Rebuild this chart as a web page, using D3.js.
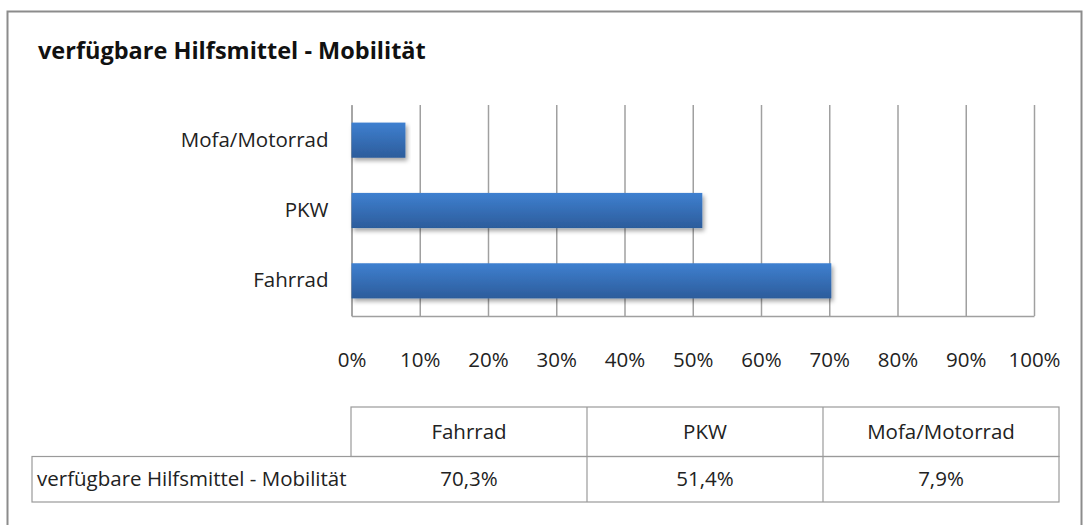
<!DOCTYPE html>
<html>
<head>
<meta charset="utf-8"/>
<title>verfügbare Hilfsmittel - Mobilität</title>
<script src="https://d3js.org/d3.v7.min.js"></script>
<style>
  body { margin: 0; background: #fff; }
  svg text { font-family: "Open Sans", sans-serif; fill: #222; }
  .title { font-size: 23.5px; font-weight: bold; fill: #111; }
  .lbl { font-size: 20.5px; }
</style>
</head>
<body>
<svg id="chart" width="1084" height="525"></svg>
<script>
  var title = "verfügbare Hilfsmittel - Mobilität";
  var categories = ["Fahrrad", "PKW", "Mofa/Motorrad"];
  var values = [70.3, 51.4, 7.9];
  var valueLabels = ["70,3%", "51,4%", "7,9%"];
  var ticks = [0, 10, 20, 30, 40, 50, 60, 70, 80, 90, 100];

  var svg = d3.select("#chart");

  // gradient + shadow for the bars
  var defs = svg.append("defs");
  var grad = defs.append("linearGradient").attr("id", "barGrad")
      .attr("x1", 0).attr("y1", 0).attr("x2", 0).attr("y2", 1);
  grad.append("stop").attr("offset", "0%").attr("stop-color", "#3f80d0");
  grad.append("stop").attr("offset", "100%").attr("stop-color", "#2c5c9b");
  var shadow = defs.append("filter").attr("id", "shadow")
      .attr("x", "-5%").attr("y", "-20%").attr("width", "115%").attr("height", "160%");
  shadow.append("feDropShadow").attr("dx", 2).attr("dy", 3).attr("stdDeviation", 2)
      .attr("flood-color", "#000").attr("flood-opacity", 0.35);

  // outer frame
  svg.append("rect").attr("x", 7.5).attr("y", 11.5).attr("width", 1074).attr("height", 520)
      .attr("fill", "none").attr("stroke", "#8c8c8c").attr("stroke-width", 2);

  svg.append("text").attr("class", "title").attr("x", 38).attr("y", 59).text(title);

  var plotLeft = 351.5, plotRight = 1034, plotTop = 105, plotBottom = 316;

  var x = d3.scaleLinear().domain([0, 100]).range([plotLeft, plotRight]);
  var y = d3.scaleBand().domain(categories.slice().reverse()).range([plotTop, plotBottom])
      .paddingInner(0.5).paddingOuter(0.25);

  // gridlines
  var grid = svg.append("g").attr("transform", "translate(0," + plotBottom + ")")
      .call(d3.axisBottom(x).tickValues(ticks).tickSize(-(plotBottom - plotTop)).tickFormat(""));
  grid.select(".domain").remove();
  grid.selectAll("line").attr("stroke", "#a0a0a0").attr("stroke-width", 1.5);

  // x tick labels
  var xAxis = svg.append("g").attr("transform", "translate(0," + plotBottom + ")")
      .call(d3.axisBottom(x).tickValues(ticks).tickSize(0).tickPadding(36)
        .tickFormat(function(d) { return d + "%"; }));
  xAxis.select(".domain").attr("stroke", "#a0a0a0").attr("stroke-width", 1.5);
  xAxis.selectAll("text").attr("class", "lbl").attr("fill", "#222");

  // y axis
  var yAxis = svg.append("g").attr("transform", "translate(" + plotLeft + ",0)")
      .call(d3.axisLeft(y).tickSize(0).tickPadding(23));
  yAxis.select(".domain").attr("stroke", "#a0a0a0").attr("stroke-width", 1.5);
  yAxis.selectAll("text").attr("class", "lbl").attr("fill", "#222");

  // bars
  svg.append("g").selectAll("rect").data(categories).enter().append("rect")
      .attr("x", x(0))
      .attr("y", function(d) { return y(d); })
      .attr("width", function(d, i) { return x(values[i]) - x(0); })
      .attr("height", y.bandwidth())
      .attr("fill", "url(#barGrad)")
      .attr("filter", "url(#shadow)");

  // data table
  var tLeft = 32, tCol0 = 351, tRight = 1059;
  var rowTop = 407, rowMid = 456.5, rowBot = 502;
  var col = d3.scaleBand().domain(categories).range([tCol0, tRight]);
  var table = svg.append("g").attr("stroke", "#9a9a9a").attr("stroke-width", 1.2);
  table.append("rect").attr("x", tCol0).attr("y", rowTop).attr("width", tRight - tCol0).attr("height", rowMid - rowTop).attr("fill", "none");
  table.append("rect").attr("x", tLeft).attr("y", rowMid).attr("width", tRight - tLeft).attr("height", rowBot - rowMid).attr("fill", "none");
  table.selectAll("line.col").data(categories.slice(1)).enter().append("line")
      .attr("x1", function(d) { return col(d); }).attr("x2", function(d) { return col(d); })
      .attr("y1", rowTop).attr("y2", rowBot);

  svg.append("g").selectAll("text").data(categories).enter().append("text")
      .attr("class", "lbl").attr("text-anchor", "middle")
      .attr("x", function(d) { return col(d) + col.bandwidth() / 2; })
      .attr("y", 439).text(function(d) { return d; });
  svg.append("g").selectAll("text").data(valueLabels).enter().append("text")
      .attr("class", "lbl").attr("text-anchor", "middle")
      .attr("x", function(d, i) { return col(categories[i]) + col.bandwidth() / 2; })
      .attr("y", 486).text(function(d) { return d; });
  svg.append("text").attr("class", "lbl").attr("x", 37).attr("y", 486).text(title);
</script>
</body>
</html>
